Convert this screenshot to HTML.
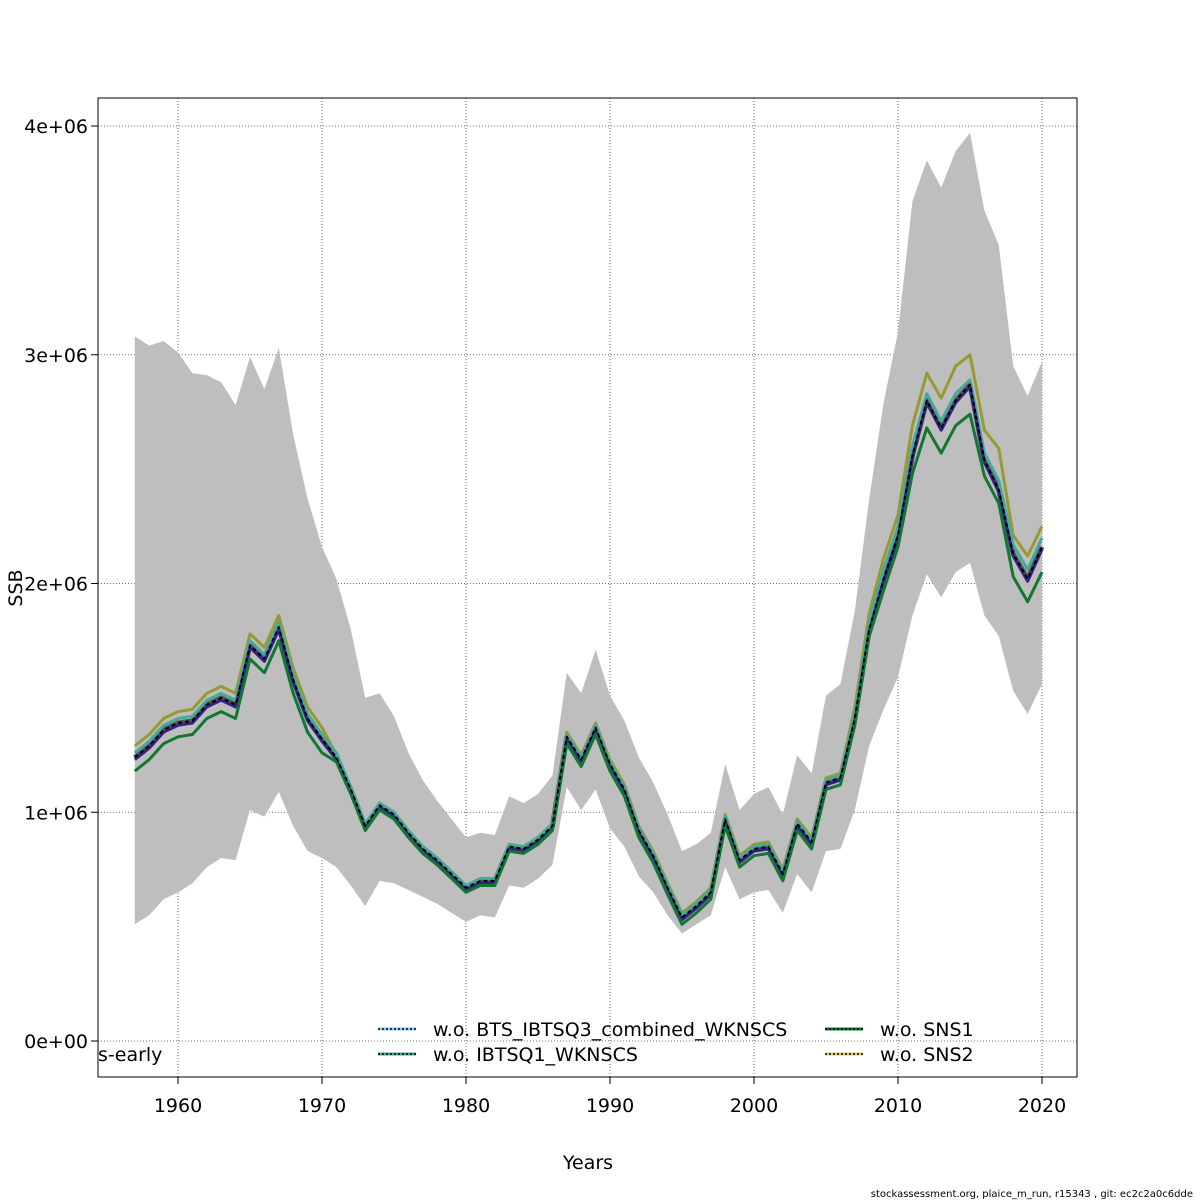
<!DOCTYPE html>
<html><head><meta charset="utf-8"><style>
body{margin:0;background:#fff;}
svg{display:block;font-family:"DejaVu Sans","Liberation Sans",sans-serif;}
</style></head><body>
<svg id="chart" width="1200" height="1200" viewBox="0 0 1200 1200">
<g id="grid"></g>
<g id="band"></g>
<g id="lines"></g>
<rect x="98" y="98" width="979" height="979" fill="none" stroke="#000" stroke-width="1"/>
<g id="axes"></g>
<text x="588" y="1169" font-size="19" text-anchor="middle">Years</text>
<text transform="translate(22,588) rotate(-90)" font-size="19" text-anchor="middle">SSB</text>
<text x="98" y="1061" font-size="19">s-early</text>
<text x="1193" y="1197" font-size="10" text-anchor="end">stockassessment.org, plaice_m_run, r15343 , git: ec2c2a0c6dde</text>
<g id="legend"></g>
</svg>
<script>
const years = [];
for (let y = 1957; y <= 2020; y++) years.push(y);
const base = [1.24,1.29,1.36,1.39,1.40,1.47,1.50,1.47,1.73,1.67,1.81,1.58,1.41,1.32,1.24,1.10,0.94,1.03,0.99,0.91,0.84,0.79,0.73,0.67,0.70,0.70,0.85,0.84,0.88,0.94,1.33,1.23,1.37,1.21,1.10,0.92,0.81,0.67,0.54,0.59,0.65,0.97,0.79,0.84,0.85,0.73,0.95,0.87,1.13,1.15,1.41,1.80,2.02,2.21,2.56,2.80,2.68,2.80,2.87,2.54,2.41,2.13,2.02,2.16];
const woBTS = [1.23,1.28,1.35,1.38,1.39,1.46,1.49,1.46,1.72,1.66,1.80,1.57,1.40,1.31,1.23,1.09,0.93,1.02,0.98,0.90,0.83,0.78,0.72,0.66,0.69,0.69,0.84,0.83,0.87,0.93,1.32,1.22,1.36,1.20,1.09,0.91,0.80,0.66,0.53,0.58,0.64,0.96,0.78,0.83,0.84,0.72,0.94,0.86,1.12,1.14,1.40,1.79,2.01,2.20,2.55,2.79,2.67,2.79,2.86,2.53,2.40,2.12,2.01,2.15];
const woIBTSQ1 = [1.26,1.31,1.38,1.41,1.42,1.49,1.52,1.49,1.75,1.69,1.83,1.60,1.43,1.34,1.26,1.11,0.95,1.04,1.00,0.92,0.85,0.80,0.74,0.68,0.71,0.71,0.86,0.85,0.89,0.95,1.34,1.24,1.38,1.22,1.11,0.93,0.82,0.68,0.55,0.60,0.66,0.98,0.80,0.85,0.86,0.74,0.96,0.88,1.14,1.16,1.43,1.83,2.06,2.25,2.60,2.83,2.71,2.83,2.89,2.57,2.45,2.17,2.06,2.20];
const woSNS1 = [1.18,1.23,1.30,1.33,1.34,1.41,1.44,1.41,1.67,1.61,1.75,1.52,1.35,1.26,1.22,1.08,0.92,1.01,0.97,0.89,0.82,0.77,0.71,0.65,0.68,0.68,0.83,0.82,0.86,0.92,1.30,1.20,1.34,1.18,1.07,0.89,0.78,0.64,0.51,0.56,0.62,0.94,0.76,0.81,0.82,0.70,0.92,0.84,1.10,1.12,1.38,1.77,1.97,2.16,2.48,2.68,2.57,2.69,2.74,2.47,2.35,2.03,1.92,2.05];
const woSNS2 = [1.29,1.34,1.41,1.44,1.45,1.52,1.55,1.52,1.78,1.72,1.86,1.63,1.46,1.37,1.25,1.11,0.95,1.04,1.00,0.92,0.85,0.80,0.74,0.68,0.71,0.71,0.86,0.85,0.89,0.95,1.35,1.25,1.39,1.23,1.12,0.94,0.83,0.69,0.56,0.61,0.67,0.99,0.81,0.86,0.87,0.75,0.97,0.89,1.15,1.17,1.46,1.87,2.11,2.30,2.69,2.92,2.81,2.95,3.00,2.67,2.59,2.21,2.12,2.25];
const upper = [3.08,3.04,3.06,3.01,2.92,2.91,2.88,2.78,2.99,2.85,3.03,2.65,2.37,2.16,2.02,1.80,1.50,1.52,1.42,1.26,1.14,1.05,0.97,0.89,0.91,0.90,1.07,1.04,1.08,1.16,1.61,1.52,1.71,1.51,1.40,1.24,1.13,0.99,0.83,0.86,0.91,1.21,1.01,1.08,1.11,0.99,1.25,1.17,1.51,1.56,1.88,2.37,2.79,3.10,3.67,3.85,3.73,3.89,3.97,3.63,3.48,2.95,2.82,2.97];
const lower = [0.51,0.55,0.62,0.65,0.69,0.76,0.80,0.79,1.01,0.98,1.09,0.94,0.83,0.80,0.76,0.68,0.59,0.70,0.69,0.66,0.63,0.60,0.56,0.52,0.55,0.54,0.68,0.67,0.71,0.77,1.11,1.01,1.10,0.93,0.85,0.72,0.65,0.55,0.47,0.51,0.55,0.76,0.62,0.65,0.66,0.56,0.73,0.65,0.83,0.84,1.01,1.29,1.45,1.59,1.86,2.04,1.94,2.05,2.09,1.86,1.77,1.53,1.43,1.56];
const xTicks = [1960,1970,1980,1990,2000,2010,2020];
const yTicks = [0,1,2,3,4];
const yTickLabels = ["0e+00","1e+06","2e+06","3e+06","4e+06"];

const NS = "http://www.w3.org/2000/svg";
const xs = y => 178 + (y - 1960) * 14.4;
const ys = v => 1041 - v * 228.75;
function mk(parent, tag, attrs) {
  const e = document.createElementNS(NS, tag);
  for (const k in attrs) e.setAttribute(k, attrs[k]);
  document.getElementById(parent).appendChild(e);
  return e;
}
// grid
xTicks.forEach(t => {
  const l = mk("grid", "line", {x1: xs(t), x2: xs(t), y1: 98, y2: 1077, stroke: "#444", "stroke-width": 0.8, "stroke-dasharray": "1,2"});
  
  
  const tk = mk("axes", "line", {x1: xs(t), x2: xs(t), y1: 1077, y2: 1084, stroke: "#000"});
  
  
  const tx = mk("axes", "text", {x: xs(t), y: 1112, "font-size": 19, "text-anchor": "middle"});
  tx.textContent = t;
  
  
});
yTicks.forEach((t, i) => {
  const l = mk("grid", "line", {x1: 98, x2: 1077, y1: ys(t), y2: ys(t), stroke: "#444", "stroke-width": 0.8, "stroke-dasharray": "1,2"});
  
  
  const tk = mk("axes", "line", {x1: 91, x2: 98, y1: ys(t), y2: ys(t), stroke: "#000"});
  
  
  const tx = mk("axes", "text", {x: 88, y: ys(t) + 7, "font-size": 19, "text-anchor": "end"});
  tx.textContent = yTickLabels[i];
  
  
});
// band
let d = "";
years.forEach((y, i) => { d += (i ? "L" : "M") + xs(y).toFixed(1) + "," + ys(upper[i]).toFixed(1); });
for (let i = years.length - 1; i >= 0; i--) d += "L" + xs(years[i]).toFixed(1) + "," + ys(lower[i]).toFixed(1);
const band = mk("band", "path", {d: d + "Z", fill: "#bebebe"});


function pts(arr) { return years.map((y, i) => xs(y).toFixed(1) + "," + ys(arr[i]).toFixed(1)).join(" "); }
const series = [
  {arr: base, color: "#555", w: 5, name: "base-line-halo"},
  {arr: woSNS2, color: "#999933", w: 3, name: "line-wo-sns2"},
  {arr: woIBTSQ1, color: "#44aa99", w: 3, name: "line-wo-ibtsq1"},
  {arr: woBTS, color: "#332288", w: 3, name: "line-wo-bts"},
  {arr: woSNS1, color: "#117733", w: 3, name: "line-wo-sns1"},
  {arr: base, color: "#000", w: 2, dash: "4,3", name: "base-line"}
];
series.forEach(s => {
  const p = mk("lines", "polyline", {points: pts(s.arr), fill: "none", stroke: s.color, "stroke-width": s.w, "stroke-linejoin": "round"});
  if (s.dash) p.setAttribute("stroke-dasharray", s.dash);
  
  
});
// legend
const leg = [
  {x: 378, y: 1029, c: "#88ccee", t: "w.o. BTS_IBTSQ3_combined_WKNSCS"},
  {x: 378, y: 1054, c: "#44aa99", t: "w.o. IBTSQ1_WKNSCS"},
  {x: 825, y: 1029, c: "#117733", t: "w.o. SNS1"},
  {x: 825, y: 1054, c: "#ddcc77", t: "w.o. SNS2"}
];
leg.forEach(e => {
  const l1 = mk("legend", "line", {x1: e.x, x2: e.x + 38, y1: e.y, y2: e.y, stroke: e.c, "stroke-width": 3});
  
  
  const l2 = mk("legend", "line", {x1: e.x, x2: e.x + 38, y1: e.y, y2: e.y, stroke: "#000", "stroke-width": 1.5, "stroke-dasharray": "2,2"});
  
  
  const tx = mk("legend", "text", {x: e.x + 55, y: e.y + 7, "font-size": 19});
  tx.textContent = e.t;
  
  
});
</script>
</body></html>
